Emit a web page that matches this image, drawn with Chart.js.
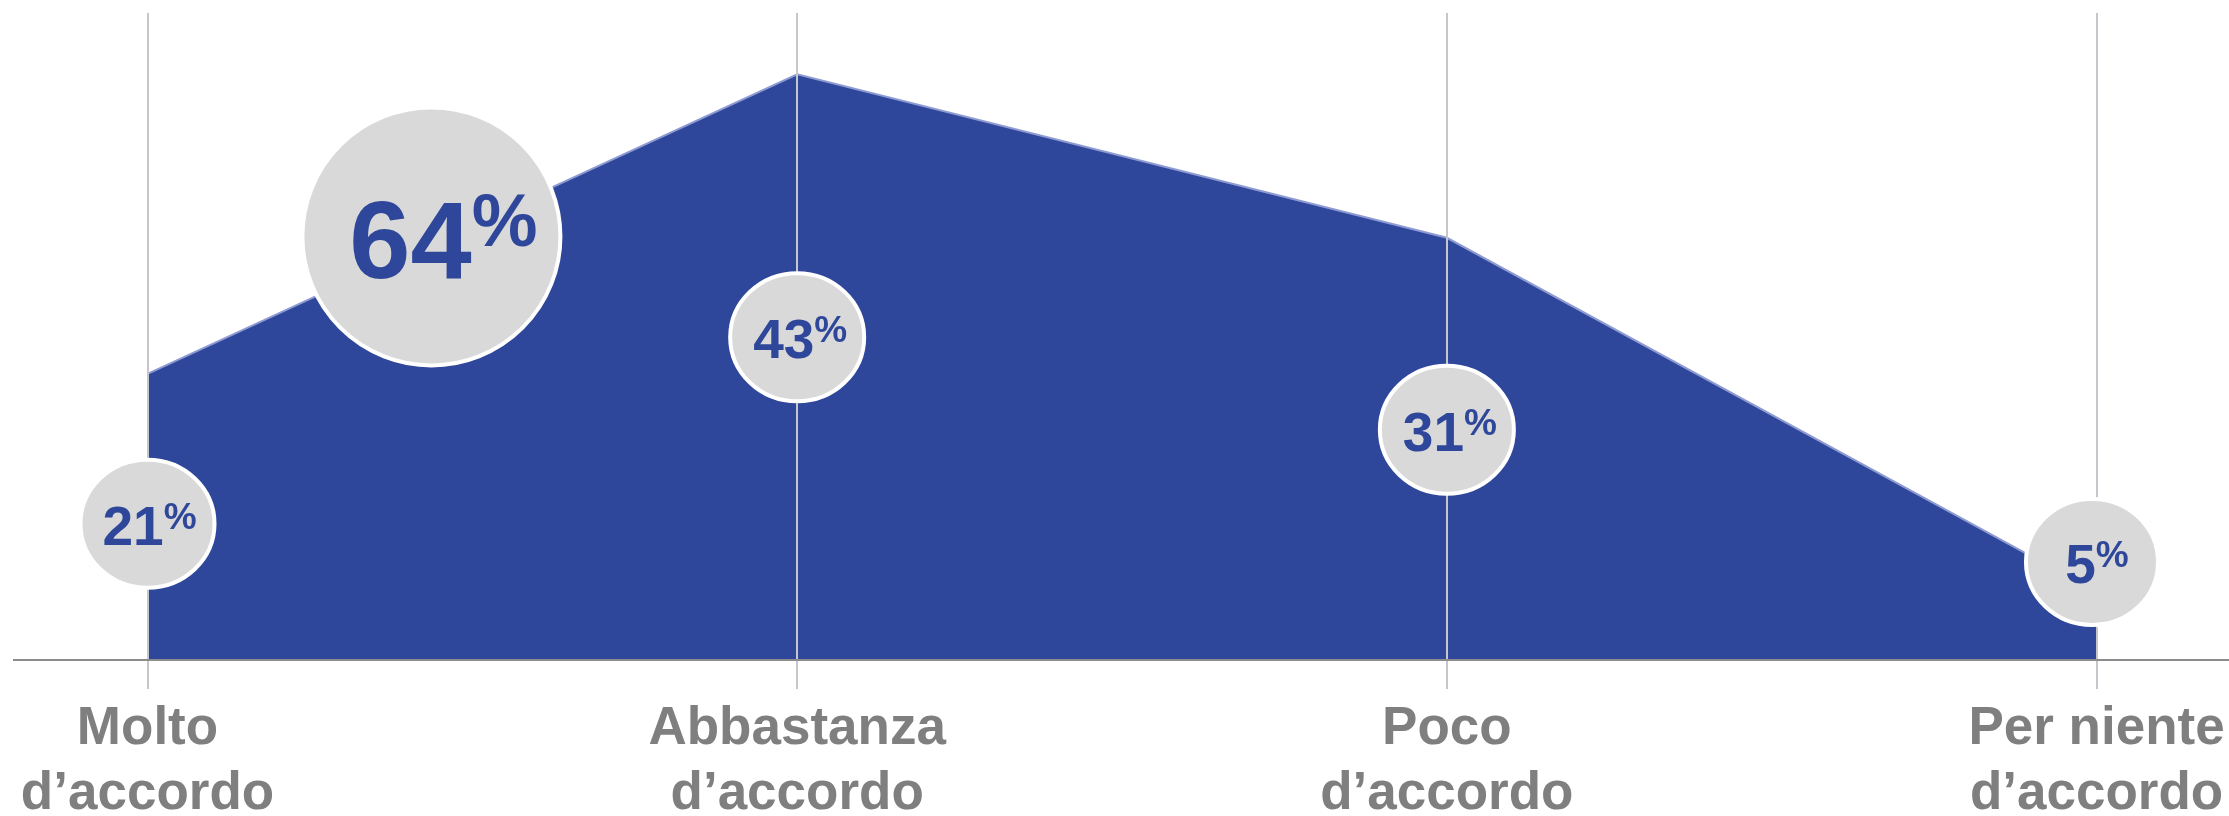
<!DOCTYPE html>
<html>
<head>
<meta charset="utf-8">
<script src="https://cdn.jsdelivr.net/npm/chart.js@4.4.0/dist/chart.umd.min.js"></script>
<style>
  html, body { margin: 0; padding: 0; background: #fff; }
  #chart { display: block; }
</style>
</head>
<body>
<canvas id="chart" width="2229" height="816"></canvas>
<script>
// Answers and share of respondents (%)
const categories = ['Molto d’accordo', 'Abbastanza d’accordo', 'Poco d’accordo', 'Per niente d’accordo'];
const shares = [21, 43, 31, 5];
// total of the two "agree" answers, shown in the big bubble
const agreeTotal = 64;

const BLUE = '#2f479a';
const LABEL_GREY = '#7f7f7f';
const FONT = '"Liberation Sans", Arial, sans-serif';

// where the value bubbles sit (axis units) and how big they are
const bubbleSpots = [
  { x: 0.0,   y: 10.0, rx: 67, ry: 64, s: 1, dx: 2 },
  { x: 1.0,   y: 23.7, rx: 67, ry: 64, s: 1, dx: 3 },
  { x: 2.0,   y: 16.9, rx: 67, ry: 64, s: 1, dx: 3 },
  { x: 2.993, y: 7.2,  rx: 66, ry: 63, s: 1, dx: 5 }
];
const bigSpot = { x: 0.437, y: 31.1, rx: 129, ry: 129, s: 2, dx: 12 };

// split "Molto d’accordo" into two lines
function splitLabel(label) {
  const cut = label.lastIndexOf(' ');
  return [label.slice(0, cut), label.slice(cut + 1)];
}

// grey bubbles with "NN%" drawn on top of everything
const bubbleLabels = {
  id: 'bubbleLabels',
  afterDraw(chart) {
    const { ctx } = chart;
    const xs = chart.scales.x;
    const ys = chart.scales.y;
    const items = shares.map((v, i) => Object.assign({ value: v }, bubbleSpots[i]));
    items.push(Object.assign({ value: agreeTotal }, bigSpot));

    items.forEach(b => {
      const cx = xs.getPixelForValue(b.x);
      const cy = ys.getPixelForValue(b.y);
      ctx.save();
      ctx.beginPath();
      ctx.ellipse(cx, cy, b.rx, b.ry, 0, 0, Math.PI * 2);
      ctx.fillStyle = '#d9d9d9';
      ctx.fill();
      ctx.lineWidth = 4;
      ctx.strokeStyle = '#ffffff';
      ctx.stroke();

      const numFont = `bold ${55 * b.s}px ${FONT}`;
      const pctFont = `bold ${37 * b.s}px ${FONT}`;
      const txt = String(b.value);
      ctx.font = numFont;
      const nw = ctx.measureText(txt).width;
      ctx.font = pctFont;
      const pw = ctx.measureText('%').width;
      const left = cx + b.dx - (nw + pw) / 2;
      const base = cy + 21 * b.s;

      ctx.fillStyle = BLUE;
      ctx.textAlign = 'left';
      ctx.textBaseline = 'alphabetic';
      ctx.font = numFont;
      ctx.fillText(txt, left, base);
      ctx.font = pctFont;
      ctx.fillText('%', left + nw, base - 16 * b.s);
      ctx.restore();
    });
  }
};

const ctx = document.getElementById('chart').getContext('2d');
new Chart(ctx, {
  type: 'line',
  data: {
    datasets: [{
      data: shares.map((v, i) => ({ x: i, y: v })),
      fill: 'origin',
      backgroundColor: BLUE,
      borderColor: '#8e9bd3',
      borderWidth: 2,
      pointRadius: 0,
      tension: 0
    }]
  },
  options: {
    responsive: false,
    animation: false,
    devicePixelRatio: 1,
    layout: { padding: { top: 13, left: 14, right: 0, bottom: 0 } },
    plugins: {
      legend: { display: false },
      tooltip: { enabled: false }
    },
    scales: {
      x: {
        type: 'linear',
        min: -0.2055,
        max: 3.2039,
        afterBuildTicks: scale => {
          scale.ticks = categories.map((_, i) => ({ value: i }));
        },
        afterFit: scale => {
          // fixed label band, and no extra side padding for the outer labels
          scale.height = 156;
          scale.paddingLeft = 0;
          scale.paddingRight = 0;
        },
        // grid lines stay visible over the filled area
        grid: {
          z: 1,
          color: '#c6c7cc',
          lineWidth: 2,
          tickLength: 29,
          drawOnChartArea: true
        },
        border: { z: 1, color: '#8c8c8c', width: 2 },
        ticks: {
          autoSkip: false,
          maxRotation: 0,
          padding: 8,
          color: LABEL_GREY,
          font: { family: FONT, size: 53, weight: 'bold', lineHeight: 1.23 },
          callback: (value, index) => splitLabel(categories[index])
        }
      },
      y: {
        display: false,
        min: 0,
        max: 47.5
      }
    }
  },
  plugins: [bubbleLabels]
});
</script>
</body>
</html>
